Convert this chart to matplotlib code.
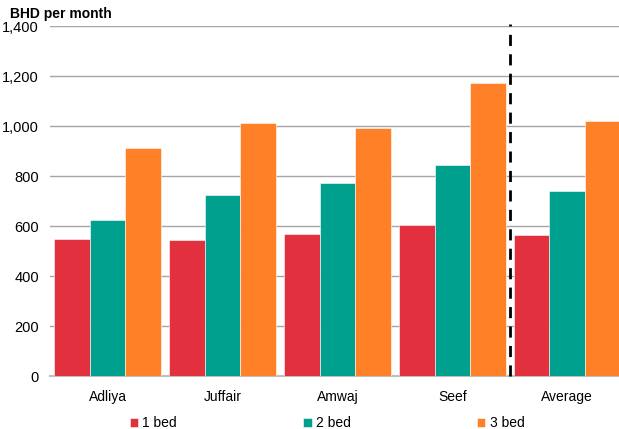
import matplotlib.pyplot as plt
import numpy as np

plt.rcParams['font.family'] = ['Liberation Sans', 'DejaVu Sans']

areas = ['Adliya', 'Juffair', 'Amwaj', 'Seef', 'Average']
series = ['1 bed', '2 bed', '3 bed']
one_bed = [548, 543, 567, 605, 564]
two_bed = [623, 724, 771, 843, 740]
three_bed = [911, 1013, 991, 1172, 1021]
colors = ['#E3303F', '#00A08F', '#FF8027']

fig = plt.figure(figsize=(6.19, 4.29), dpi=100)
ax = fig.add_axes([50 / 619, (429 - 376) / 429, 569 / 619, 350 / 429])

x = np.arange(len(areas))
w = 0.31
for i, (vals, lab) in enumerate(zip([one_bed, two_bed, three_bed], series)):
    ax.bar(x + (i - 1) * w, vals, w, color=colors[i], label=lab,
           edgecolor='white', linewidth=0.4, zorder=3)

ax.set_xlim(-0.5, 4.45)
ax.set_ylim(0, 1400)
ax.set_yticks(range(0, 1401, 200))
ax.set_yticklabels([f'{v:,}' for v in range(0, 1401, 200)], fontsize=10.5)
ax.set_xticks(x)
ax.set_xticklabels(areas, fontsize=10)
ax.tick_params(axis='both', length=0)
ax.tick_params(axis='y', pad=8)
ax.tick_params(axis='x', pad=10)
ax.grid(axis='y', color='#a6a6a6', linewidth=1, zorder=0)
for s in ['top', 'right', 'left']:
    ax.spines[s].set_visible(False)
ax.spines['bottom'].set_color('#bfbfbf')
ax.spines['bottom'].set_linewidth(1.5)

# divider before the average group
ax.axvline(3.5, ymin=0, ymax=1.005, color='black', linestyle=(0, (4, 3)),
           linewidth=2, zorder=4, clip_on=False)

fig.text(10 / 619, 1 - 14 / 429, 'BHD per month', fontsize=10,
         fontweight='bold', va='center')

fig.legend(loc='center', bbox_to_anchor=(327 / 619, 1 - 423 / 429), ncol=3,
           frameon=False, fontsize=10, handlelength=0.6, handleheight=0.6,
           handletextpad=0.3, columnspacing=9.1)

fig.savefig('out.png', dpi=100)
